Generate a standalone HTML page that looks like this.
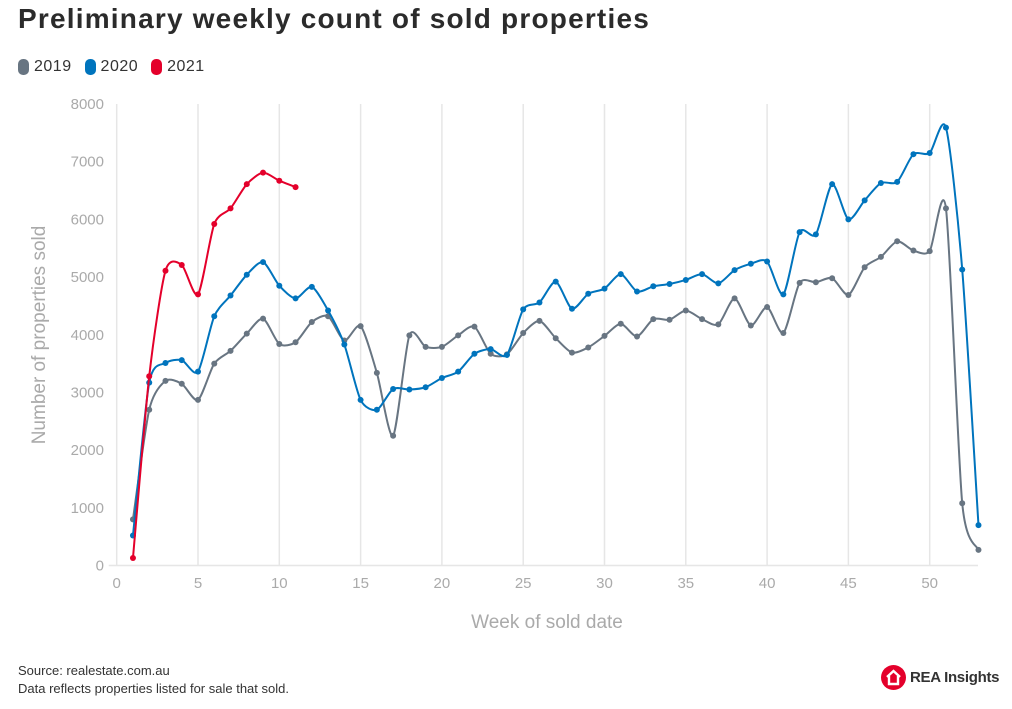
<!DOCTYPE html>
<html><head><meta charset="utf-8"><style>
body{margin:0;width:1012px;height:709px;background:#fff;font-family:"Liberation Sans",sans-serif;overflow:hidden;position:relative}
.t{position:absolute;white-space:nowrap}
</style></head><body>
<div class="t" style="left:18px;top:3px;font-size:28px;font-weight:bold;color:#2b2b2b;letter-spacing:1.2px">Preliminary weekly count of sold properties</div>
<div style="position:absolute;left:18px;top:58px;font-size:16px;color:#333;letter-spacing:0.5px">
<span style="display:inline-flex;align-items:center;margin-right:8px"><span style="width:11px;height:16px;border-radius:5px;background:#687582;margin-right:5px;display:inline-block"></span>2019</span>
<span style="display:inline-flex;align-items:center;margin-right:8px"><span style="width:11px;height:16px;border-radius:5px;background:#0074bd;margin-right:5px;display:inline-block"></span>2020</span>
<span style="display:inline-flex;align-items:center"><span style="width:11px;height:16px;border-radius:5px;background:#e4002b;margin-right:5px;display:inline-block"></span>2021</span>
</div>
<svg id="chart" width="1012" height="709" style="position:absolute;left:0;top:0"></svg>
<div class="t" style="left:18px;top:662px;font-size:13px;color:#333;line-height:18px">Source: realestate.com.au<br>Data reflects properties listed for sale that sold.</div>
<div style="position:absolute;left:881px;top:665px;display:flex;align-items:center">
<svg width="25" height="25"><circle cx="12.5" cy="12.5" r="12.5" fill="#e4002b"/><path d="M6 12 L12.5 6 L19 12 M8 11 V19 H17 V11" fill="none" stroke="#fff" stroke-width="2.4"/></svg>
<span style="font-size:15px;font-weight:bold;color:#333;margin-left:4px;letter-spacing:-0.3px">REA Insights</span></div>
<script>
const weeks=[];for(let i=1;i<=53;i++)weeks.push(i);
const s2019=[800,2700,3200,3150,2870,3500,3720,4020,4280,3840,3870,4220,4320,3900,4150,3340,2250,3990,3790,3790,3990,4140,3670,3660,4030,4240,3940,3690,3780,3980,4190,3970,4270,4260,4420,4270,4180,4630,4160,4480,4030,4900,4910,4980,4690,5170,5350,5620,5460,5450,6190,1080,270];
const s2020=[520,3170,3510,3560,3360,4320,4680,5040,5260,4850,4630,4830,4420,3830,2870,2700,3060,3050,3090,3250,3360,3670,3750,3650,4440,4560,4920,4450,4710,4800,5050,4750,4840,4880,4950,5050,4890,5120,5230,5270,4700,5780,5740,6610,6000,6330,6630,6650,7130,7150,7590,5130,700];
const s2021=[130,3280,5110,5210,4700,5920,6190,6610,6810,6670,6560];
const yTicks=[0,1000,2000,3000,4000,5000,6000,7000,8000];
const xTicks=[0,5,10,15,20,25,30,35,40,45,50];
const NS='http://www.w3.org/2000/svg',svg=document.getElementById('chart');
const X0=116.7,XW=16.26,Y0=565.5,YH=461.5/8000,XR=978;
const xs=v=>X0+v*XW, ys=v=>Y0-v*YH;
function mk(t,a){const e=document.createElementNS(NS,t);for(const k in a)e.setAttribute(k,a[k]);svg.appendChild(e);return e;}
yTicks.forEach(v=>{
 const l=mk('text',{x:104,y:ys(v)+5,'text-anchor':'end','font-size':15,fill:'#aaa','font-family':'Liberation Sans'});l.textContent=v;
 
 
});
xTicks.forEach(v=>{
 const g=mk('line',{x1:xs(v),x2:xs(v),y1:104,y2:Y0,stroke:'#e6e6e6','stroke-width':1.5});
 
 
 const l=mk('text',{x:xs(v),y:588,'text-anchor':'middle','font-size':15,fill:'#aaa','font-family':'Liberation Sans'});l.textContent=v;
 
 
});
const ax=mk('line',{x1:X0-8,x2:XR,y1:Y0,y2:Y0,stroke:'#e6e6e6','stroke-width':1.5});


const xt=mk('text',{x:547,y:628,'text-anchor':'middle','font-size':19,fill:'#aaa','font-family':'Liberation Sans'});xt.textContent='Week of sold date';


const yt=mk('text',{x:0,y:0,'text-anchor':'middle','font-size':19,fill:'#aaa','font-family':'Liberation Sans',transform:'translate(45,335) rotate(-90)'});yt.textContent='Number of properties sold';


function path(vals){
 const p=vals.map((v,i)=>[xs(weeks[i]),ys(v)]);let d='M'+p[0];const k=8;
 for(let i=0;i<p.length-1;i++){const a=p[i-1]||p[i],b=p[i],c=p[i+1],e=p[i+2]||c;
  d+=' C'+(b[0]+(c[0]-a[0])/k)+','+(b[1]+(c[1]-a[1])/k)+' '+(c[0]-(e[0]-b[0])/k)+','+(c[1]-(e[1]-b[1])/k)+' '+c[0]+','+c[1];}
 return [d,p];
}
[[s2019,'#687582','2019'],[s2020,'#0074bd','2020'],[s2021,'#e4002b','2021']].forEach(([vals,col,nm])=>{
 const [d,p]=path(vals);
 const l=mk('path',{d:d,fill:'none',stroke:col,'stroke-width':2});
 
 
 p.forEach(q=>{const c=mk('circle',{cx:q[0],cy:q[1],r:3,fill:col});
  
  });
});
</script>
</body></html>
